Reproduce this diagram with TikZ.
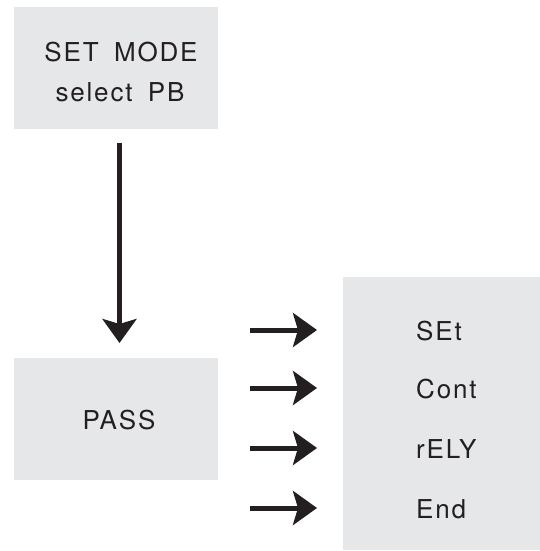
\documentclass[tikz,border=0pt]{standalone}
\usepackage{fontspec}
\setmainfont{TeX Gyre Heros}[LetterSpace=7,WordSpace=1.7]
\usetikzlibrary{arrows.meta,calc}
\definecolor{boxgray}{HTML}{E6E7E8}
\definecolor{ink}{HTML}{231F20}
\begin{document}
\begin{tikzpicture}[x=1pt,y=1pt,
  graybox/.style={fill=boxgray,draw=none,inner sep=0pt},
  lbl/.style={text=ink,font=\fontsize{26}{30}\selectfont,inner sep=0pt},
  arr/.style={draw=ink,line width=5pt,-{Stealth[length=24pt,width=34pt,inset=5pt]}}]
\useasboundingbox (0,0) rectangle (540,-551);
% boxes
\node[graybox,minimum width=204pt,minimum height=122pt] (top) at (116,-68) {};
\node[graybox,minimum width=204pt,minimum height=122pt] (pass) at (116,-419) {};
\node[graybox,minimum width=197pt,minimum height=273pt] (menu) at (441.5,-413.5) {};
% texts
\node[lbl] (t1) at (121,-52) {SET MODE};
\node[lbl] (t2) at (120,-92) {select PB};
\node[lbl] (tp) at (119,-420) {PASS};
\node[lbl,anchor=west] (m1) at (416,-331) {SEt};
\node[lbl,anchor=west] (m2) at (416,-389) {Cont};
\node[lbl,anchor=west] (m3) at (416,-449) {rELY};
\node[lbl,anchor=west] (m4) at (416,-509) {End};
% vertical arrow
\coordinate (vs) at (119.5,-143);
\coordinate (ve) at (119.5,-343);
\draw[arr] (vs) -- (ve);
% horizontal arrows
\foreach \i/\y in {1/-330,2/-388,3/-448,4/-508}{
  \coordinate (hs\i) at (250,\y);
  \coordinate (he\i) at (317,\y);
  \draw[arr] (hs\i) -- (he\i);
}
\end{tikzpicture}
\end{document}
